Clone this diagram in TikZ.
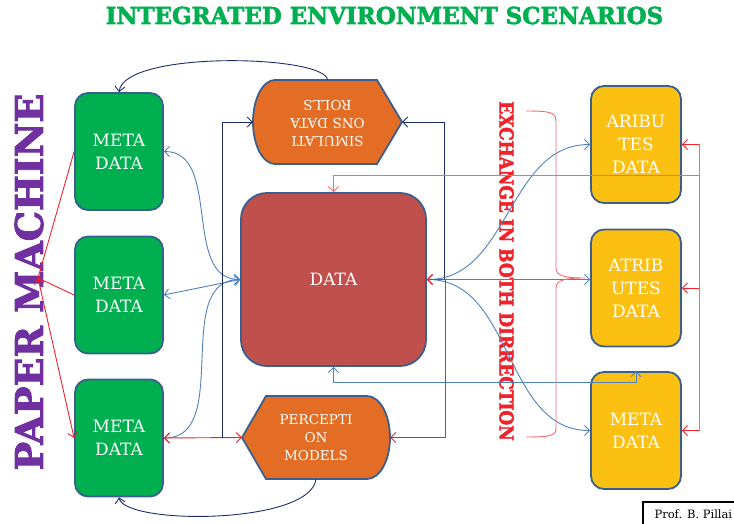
\documentclass[tikz,border=0pt]{standalone}
\usepackage{fontspec}
\setmainfont{DejaVu Serif}
\newfontfamily\slab{DejaVu Serif}[BoldFeatures={FakeBold=2.5}]
\usetikzlibrary{arrows.meta}
\definecolor{leaf}{HTML}{00B050}
\definecolor{rim}{HTML}{3A5F8E}
\definecolor{brick}{HTML}{C0504D}
\definecolor{rust}{HTML}{E36D25}
\definecolor{amber}{HTML}{FCC012}
\definecolor{ink}{HTML}{1F2C6C}
\definecolor{sky}{HTML}{4F81BD}
\definecolor{alarm}{HTML}{F0222A}
\definecolor{pink}{HTML}{F56A6E}
\definecolor{grape}{HTML}{7030A0}
\begin{document}
\begin{tikzpicture}[x=1pt,y=-1pt,>={Straight Barb[length=5pt,width=10pt]}]
          \useasboundingbox (0,0) rectangle (734,524);
          \tikzstyle{every node}=[text=white,align=center,font=\fontsize{17}{23}\selectfont];
          \tikzstyle{gbox}=[draw=rim,line width=1.8pt,fill=leaf,rounded corners=13pt,minimum width=88pt,minimum height=117pt];
          \tikzstyle{ybox}=[gbox,fill=amber,minimum width=90pt];
          \tikzstyle{shp}=[draw=rim,line width=1.8pt,fill=rust];
          \tikzstyle{blk}=[minimum width=148pt,minimum height=84pt,font=\fontsize{13.5}{18}\selectfont];
          \tikzstyle{back}=[draw=ink,line width=0.9pt];
          \tikzstyle{link}=[draw=sky,line width=0.9pt];
          \tikzstyle{redl}=[draw=alarm,line width=0.9pt];
          \tikzstyle{pale}=[draw=pink,line width=0.9pt];
          %\node (name) at (x,y) [style] {text};
          \node[text=leaf,font=\fontsize{23.3}{24}\selectfont\slab\bfseries] (t) at (384.5,15.5) {\scalebox{0.985}[1]{INTEGRATED ENVIRONMENT SCENARIOS}};
          \node[rotate=90,text=grape,font=\fontsize{38}{38}\selectfont\slab\bfseries] (pmtext) at (29,282) {PAPER MACHINE};
          \node[rotate=-90,text=alarm,font=\fontsize{19}{19}\selectfont\slab\bfseries] (ex) at (506.5,271) {\scalebox{0.895}[1]{EXCHANGE IN BOTH DIRRECTION}};
          % left column
          \node[gbox] (1) at (119,151.5) {META\\DATA};
          \node[gbox] (2) at (119,295) {META\\DATA};
          \node[gbox] (3) at (119,438) {META\\DATA};
          % middle column
          \node[gbox,fill=brick,rounded corners=26pt,minimum width=185pt,minimum height=173pt] (data) at (333.5,279.5) {DATA};
          \filldraw[shp] (275,164) .. controls (262.8,164) and (253,145.2) .. (253,122)
            .. controls (253,98.8) and (262.8,80) .. (275,80) -- (377,80) -- (402,122) -- (377,164) -- cycle;
          \node[blk,minimum width=149pt] (sim) at (327.5,122) {\rotatebox{180}{\begin{tabular}{@{}c@{}}SIMULATI\\ONS DATA\\ROLLS\end{tabular}}};
          \filldraw[shp] (242,437.5) -- (266,396) -- (367,396) .. controls (379.7,396) and (390,414.6) .. (390,437.5)
            .. controls (390,460.4) and (379.7,479) .. (367,479) -- (266,479) -- cycle;
          \node[blk,minimum height=83pt] (perc) at (316,437.5) {PERCEPTI\\ON\\MODELS};
          % right column
          \node[ybox] (4) at (636,144.5) {ARIBU\\TES\\DATA};
          \node[ybox] (5) at (636,288) {ATRIB\\UTES\\DATA};
          \node[ybox] (6) at (636,430.5) {META\\DATA};
          % free ends
          \coordinate (pm) at (38,278);
          \coordinate (n1) at (222,437.5);
          \coordinate (n2) at (444,280);
          \coordinate (r1) at (445,437.5);
          \coordinate (r2) at (699,175);
          \coordinate (r3) at (699,144.5);
          \coordinate (r4) at (699,430.5);
          \coordinate (b1) at (636,382);
          % paper machine to the meta data
          \draw[redl,<->] (pm)--(1.west) (pm)--(2.west) (pm)--(3.west);
          % meta data and data
          \draw[link,<->] (1.east) to[out=0,in=180] (data.west);
          \draw[link,<->] (2.east)--(data.west);
          \draw[link,<->] (3.east) to[out=0,in=180] (data.west);
          \draw[redl,<->] (3.east)--(perc.west);
          \draw[back,->] (n1) |- (sim.west);
          \draw[back,->] (n2) |- (sim.east);
          \draw[back,->] (sim.north) .. controls (325,55) and (125,50) .. (1.north);
          \draw[back,->] (perc.south) .. controls (310,525) and (125,525) .. (3.south);
          % data and the right column
          \draw[link,<->] (data.east) to[out=0,in=180] (4.west);
          \draw[link,<->] (data.east)--(5.west |- data.east);
          \draw[link,<->] (data.east) to[out=0,in=180] (6.west);
          \draw[link,<->] (data.south) |- (b1)--(6.north);
          \draw[redl,<->] (data.east) -| (r1)--(perc.east);
          \draw[pale,->] (r2) -| (data.north);
          \draw[pale] (r3)--(r4);
          \draw[redl,->] (r3)--(4.east);
          \draw[redl,->] (r3 |- 5.east)--(5.east);
          \draw[redl,->] (r4)--(6.east);
          % brace
          \draw[pale] (526,111) .. controls (553,111) and (556,113) .. (556,122) -- (556,268)
            .. controls (556,276) and (565,278) .. (585,278) .. controls (565,278) and (556,280) .. (556,288)
            -- (556,428) .. controls (556,435) and (553,437) .. (526,437);
          \draw[line width=1.5pt] (643,502) rectangle (745,540);
          \node[text=black,font=\fontsize{11.5}{14}\selectfont,anchor=base west] (prof) at (651,518) {Prof. B. Pillai};
      \end{tikzpicture}
\end{document}
